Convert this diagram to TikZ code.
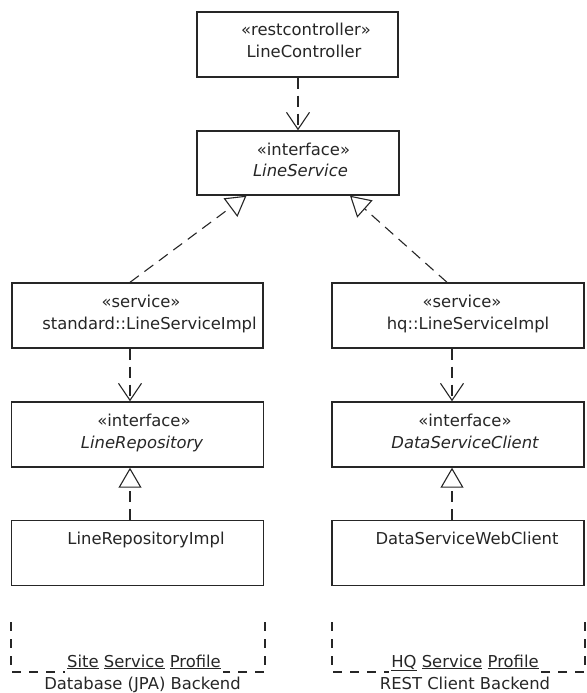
\documentclass[tikz,border=0pt]{standalone}
\usepackage{fontspec}
\setmainfont{DejaVu Sans}
\usetikzlibrary{arrows.meta}
\begin{document}
\begin{tikzpicture}[x=1pt,y=-1pt,
  box/.style={draw=black!85, line width=1.4pt, fill=white, inner sep=0pt, minimum height=65pt},
  wbox/.style={box, minimum width=252pt},
  txt/.style={inner sep=0pt, anchor=base, text=black!85, font=\fontsize{16.4}{20}\selectfont},
  itxt/.style={txt, font=\fontsize{16.4}{20}\selectfont\itshape},
  dashpat/.style={line width=1.1pt, draw=black!85, dash pattern=on 11pt off 7pt},
  dep/.style={dashpat, -{Straight Barb[length=17pt,width=23pt,line width=1.1pt]}},
  real/.style={dashpat, -{Triangle[open,length=20pt,width=23pt,line width=1.1pt]}},
  frame/.style={line width=1.1pt, draw=black!85, dash pattern=on 9pt off 8pt}
]
\useasboundingbox (0,0) rectangle (586,693);

% boxes
\node[box, minimum width=201pt] (lc) at (297.5,44.5) {};
\node[box, minimum width=202pt, minimum height=64pt] (ls) at (298,163) {};
\node[wbox, minimum width=251pt] (std) at (137.5,315.5) {};
\node[wbox] (hq) at (458,315.5) {};
\node[wbox] (lr) at (137.5,434.5) {};
\node[wbox] (dsc) at (458,434.5) {};
\node[wbox] (lri) at (137.5,553) {};
\node[wbox] (dswc) at (458,553) {};

% texts
\node[txt] (lc1) at (306,36) {«restcontroller»};
\node[txt] (lc2) at (304,57.5) {LineController};
\node[txt] (ls1) at (303.5,155) {«interface»};
\node[itxt] (ls2) at (300.5,176.5) {LineService};
\node[txt] (std1) at (141,307.5) {«service»};
\node[txt] (std2) at (149.5,329) {standard::LineServiceImpl};
\node[txt] (hq1) at (462,307.5) {«service»};
\node[txt] (hq2) at (468,329) {hq::LineServiceImpl};
\node[txt] (lr1) at (144,426.5) {«interface»};
\node[itxt] (lr2) at (142,448) {LineRepository};
\node[txt] (dsc1) at (465,426.5) {«interface»};
\node[itxt] (dsc2) at (465,448) {DataServiceClient};
\node[txt] (lri1) at (146,544) {LineRepositoryImpl};
\node[txt] (dswc1) at (467,544) {DataServiceWebClient};

% profile frames
\node[txt] (sp1) at (144,667) {\underline{Site} \underline{Service} \underline{Profile}};
\node[txt] (sp2) at (142.5,689) {Database (JPA) Backend};
\node[txt] (hp1) at (465,667) {\underline{HQ} \underline{Service} \underline{Profile}};
\node[txt] (hp2) at (465,689) {REST Client Backend};
\draw[frame] (11,622) -- (11,672) -- ([xshift=-2pt]sp1.west |- 0,672);
\draw[frame] (265,622) -- (265,672) -- ([xshift=2pt]sp1.east |- 0,672);
\draw[frame] (332,622) -- (332,672) -- ([xshift=-2pt]hp1.west |- 0,672);
\draw[frame] (585,622) -- (585,672) -- ([xshift=2pt]hp1.east |- 0,672);

% connectors
\draw[dep] ([xshift=0.5pt]lc.south) -- ([xshift=0pt]ls.north);
\draw[real] ([xshift=-7.5pt]std.north) -- ([xshift=-51.5pt]ls.south);
\draw[real] ([xshift=-11pt]hq.north) -- ([xshift=52pt]ls.south);
\draw[dep] ([xshift=-7.5pt]std.south) -- ([xshift=-7.5pt]lr.north);
\draw[dep] ([xshift=-6pt]hq.south) -- ([xshift=-6pt]dsc.north);
\draw[real] ([xshift=-7.5pt]lri.north) -- ([xshift=-7.5pt]lr.south);
\draw[real] ([xshift=-6pt]dswc.north) -- ([xshift=-6pt]dsc.south);
\end{tikzpicture}
\end{document}
